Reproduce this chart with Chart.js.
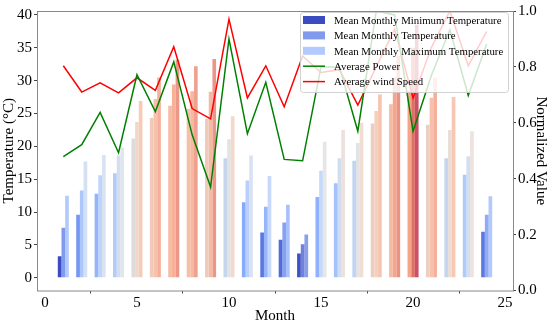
<!DOCTYPE html>
<html>
<head>
<meta charset="utf-8">
<script src="https://cdn.jsdelivr.net/npm/chart.js@4"></script>
<style>
  html, body { margin: 0; padding: 0; background: #fff; }
  #wrap { width: 550px; height: 325px; }
</style>
</head>
<body>
<div id="wrap"><canvas id="chart"></canvas></div>
<script>
// Data
const months = [1, 2, 3, 4, 5, 6, 7, 8, 9, 10, 11, 12, 13, 14, 15, 16, 17, 18, 19, 20, 21, 22, 23, 24];
const tempMin = [3.3, 9.6, 12.8, 15.9, 21.2, 24.3, 26.2, 25.7, 24.2, 18.2, 11.5, 6.9, 5.8, 3.7, 12.3, 14.4, 17.8, 23.5, 26.4, 28.5, 23.3, 18.2, 15.7, 7.0];
const tempMean = [7.6, 13.3, 15.6, 18.6, 23.7, 27.2, 29.4, 28.4, 28.3, 21.1, 14.8, 10.8, 8.4, 5.1, 16.3, 18.2, 20.5, 25.4, 30.5, 35.0, 27.4, 22.5, 18.5, 9.6];
const tempMax = [12.5, 17.7, 18.7, 19.8, 26.9, 30.5, 33.2, 32.2, 33.3, 24.6, 18.6, 15.5, 11.1, 6.6, 20.7, 22.5, 23.6, 27.9, 33.8, 38.5, 30.5, 27.5, 22.3, 12.4];
const power = [0.479, 0.522, 0.637, 0.493, 0.772, 0.640, 0.818, 0.557, 0.370, 0.900, 0.561, 0.745, 0.469, 0.464, 0.800, 0.800, 0.570, 1.000, 0.986, 0.570, 0.770, 0.933, 0.698, 0.882];
const windSpeed = [0.804, 0.710, 0.743, 0.707, 0.761, 0.716, 0.872, 0.651, 0.614, 0.971, 0.689, 0.804, 0.657, 0.839, 0.780, 0.790, 0.663, 0.800, 0.935, 0.689, 0.870, 1.000, 0.804, 0.927];
const xTicks = [0, 5, 10, 15, 20, 25];
const yTicks = [0, 5, 10, 15, 20, 25, 30, 35, 40];

const serif = "'Liberation Serif', 'Times New Roman', serif";

// coolwarm colormap, sampled
const cw = [
    [0, 59, 76, 192], [0.125, 98, 130, 234], [0.25, 141, 176, 254], [0.375, 184, 208, 249],
    [0.5, 221, 221, 221], [0.625, 245, 196, 173], [0.75, 244, 154, 123], [0.875, 222, 96, 77], [1, 180, 4, 38]
];
function coolwarm(t, alpha) {
    t = Math.max(0, Math.min(1, t));
    let i = 0;
    while (i < cw.length - 2 && t > cw[i + 1][0]) i++;
    const a = cw[i], b = cw[i + 1];
    const f = (t - a[0]) / (b[0] - a[0]);
    const c = [1, 2, 3].map(k => Math.round(a[k] + (b[k] - a[k]) * f));
    return `rgba(${c[0]},${c[1]},${c[2]},${alpha})`;
}

const allTemps = tempMin.concat(tempMean, tempMax);
const vmin = Math.min(...allTemps), vmax = Math.max(...allTemps);
const colorsFor = (vals, alpha) => vals.map(v => coolwarm((v - vmin) / (vmax - vmin), alpha));
const pts = vals => months.map((m, i) => ({ x: m, y: vals[i] }));

function barSet(label, vals, alpha) {
    return {
        type: 'bar', label, data: pts(vals), yAxisID: 'y',
        backgroundColor: colorsFor(vals, alpha), borderWidth: 0,
        categoryPercentage: 0.6, barPercentage: 1.0, order: 2
    };
}
function lineSet(label, vals, color) {
    return {
        type: 'line', label, data: pts(vals), yAxisID: 'y1',
        borderColor: color, backgroundColor: color, borderWidth: 1.5,
        pointRadius: 0, tension: 0, order: 1
    };
}

// frame round the plot + legend inside the plot
const framePlugin = {
    id: 'frame',
    afterDatasetsDraw(chart) {
        const { ctx, chartArea: a } = chart;
        ctx.save();
        ctx.strokeStyle = '#888';
        ctx.lineWidth = 1;
        ctx.strokeRect(a.left + 0.5, a.top + 0.5, a.right - a.left, a.bottom - a.top);
        ctx.restore();
    },
    afterDraw(chart) {
        const ctx = chart.ctx;
        const box = { x: 300, y: 12, w: 208, h: 80 };
        ctx.save();
        ctx.fillStyle = 'rgba(255,255,255,0.8)';
        ctx.strokeStyle = 'rgba(204,204,204,0.9)';
        ctx.lineWidth = 1;
        ctx.beginPath();
        ctx.roundRect(box.x + 0.5, box.y + 0.5, box.w, box.h, 3);
        ctx.fill();
        ctx.stroke();
        ctx.font = '10.8px ' + serif;
        ctx.textBaseline = 'middle';
        chart.data.datasets.forEach((ds, i) => {
            const cy = 20 + i * 15.4;
            if (ds.type === 'bar') {
                ctx.fillStyle = ds.backgroundColor[0];
                ctx.fillRect(303, cy - 4, 22, 8);
            } else {
                ctx.strokeStyle = ds.borderColor;
                ctx.lineWidth = 1.5;
                ctx.beginPath();
                ctx.moveTo(303, cy);
                ctx.lineTo(325, cy);
                ctx.stroke();
            }
            ctx.fillStyle = '#000';
            ctx.fillText(ds.label, 334, cy + 1);
        });
        ctx.restore();
    }
};

const tickGrid = { display: true, drawOnChartArea: false, drawTicks: true, tickLength: 3, color: '#444' };

new Chart(document.getElementById('chart'), {
    type: 'bar',
    data: {
        datasets: [
            barSet('Mean Monthly Minimum Temperature', tempMin, 1.0),
            barSet('Mean Monthly Temperature', tempMean, 0.8),
            barSet('Mean Monthly Maximum Temperature', tempMax, 0.7),
            lineSet('Average Power', power, '#008000'),
            lineSet('Average wind Speed', windSpeed, '#ff0000')
        ]
    },
    options: {
        responsive: true,
        maintainAspectRatio: false,
        animation: false,
        layout: { padding: { top: 6, left: 0, right: 0, bottom: 0 } },
        plugins: { legend: { display: false }, tooltip: { enabled: false } },
        scales: {
            x: {
                type: 'linear', min: -0.43, max: 25.43, offset: false,
                grid: tickGrid, border: { display: false },
                afterBuildTicks: s => { s.ticks = xTicks.map(v => ({ value: v })); },
                ticks: { color: '#000', font: { family: serif, size: 15 }, padding: 1, maxRotation: 0 },
                title: { display: true, text: 'Month', color: '#000', font: { family: serif, size: 15 }, padding: { top: 0, bottom: 0 } },
                afterFit: s => { s.height = 34.5; }
            },
            y: {
                position: 'left', min: -1.93, max: 40.6,
                grid: tickGrid, border: { display: false },
                afterBuildTicks: s => { s.ticks = yTicks.map(v => ({ value: v })); },
                ticks: { color: '#000', font: { family: serif, size: 15 }, padding: 2 },
                title: { display: true, text: 'Temperature (°C)', color: '#000', font: { family: serif, size: 15 }, padding: { top: 0, bottom: 0 } },
                afterFit: s => { s.width = 37; }
            },
            y1: {
                position: 'right', min: 0, max: 1,
                grid: tickGrid, border: { display: false },
                ticks: { stepSize: 0.2, color: '#000', font: { family: serif, size: 15 }, padding: 2, callback: v => v.toFixed(1) },
                title: { display: true, text: 'Normalized Value', color: '#000', font: { family: serif, size: 15 }, padding: { top: 0, bottom: 0 } },
                afterFit: s => { s.width = 37; }
            }
        }
    },
    plugins: [framePlugin]
});
</script>
</body>
</html>
